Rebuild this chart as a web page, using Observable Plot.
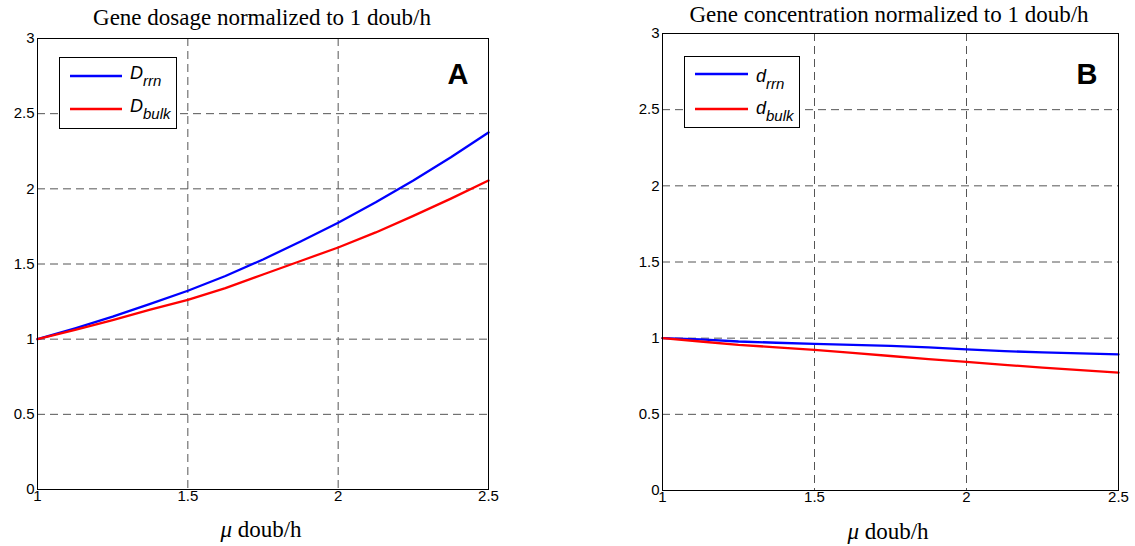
<!DOCTYPE html>
<html>
<head>
<meta charset="utf-8">
<script src="https://cdn.jsdelivr.net/npm/d3@7"></script>
<script src="https://cdn.jsdelivr.net/npm/@observablehq/plot@0.6"></script>
<style>
  html, body { margin: 0; padding: 0; background: #fff; }
  #wrap { position: relative; width: 1135px; height: 546px; overflow: hidden; }
  .panel { position: absolute; top: 0; }
  .panel text { font-size: 15px !important; font-family: "Liberation Sans", Arial, sans-serif !important; }
  .title { position: absolute; font-family: "Liberation Serif", "Times New Roman", serif; font-size: 23px; color: #000; white-space: nowrap; transform: translateX(-50%); line-height: 1; }
  .xlab { position: absolute; font-family: "Liberation Serif", "Times New Roman", serif; font-size: 23px; color: #000; white-space: nowrap; transform: translateX(-50%); line-height: 1; }
  .tag { position: absolute; font-family: "Liberation Sans", Arial, sans-serif; font-weight: bold; font-size: 29px; color: #000; transform: translateX(-50%); line-height: 1; }
  .legend { position: absolute; }
</style>
</head>
<body>
<div id="wrap"></div>
<script>
// ---- data ----
const mu = [1.0, 1.125, 1.25, 1.375, 1.5, 1.625, 1.75, 1.875, 2.0, 2.125, 2.25, 2.375, 2.5];
// Panel A: gene dosage
const D_rrn  = [1.0, 1.072, 1.150, 1.235, 1.322, 1.420, 1.530, 1.650, 1.775, 1.910, 2.055, 2.210, 2.375];
const D_bulk = [1.0, 1.062, 1.127, 1.196, 1.262, 1.340, 1.430, 1.520, 1.610, 1.710, 1.820, 1.935, 2.055];
// Panel B: gene concentration
const d_rrn  = [1.0, 0.992, 0.978, 0.970, 0.962, 0.956, 0.950, 0.940, 0.927, 0.915, 0.907, 0.900, 0.893];
const d_bulk = [1.0, 0.978, 0.956, 0.940, 0.923, 0.903, 0.883, 0.863, 0.844, 0.825, 0.807, 0.790, 0.774];

const xTicks = [1, 1.5, 2, 2.5];
const yTicks = [0, 0.5, 1, 1.5, 2, 2.5, 3];
const xTickLabels = ["1", "1.5", "2", "2.5"];
const yTickLabels = ["0", "0.5", "1", "1.5", "2", "2.5", "3"];

const titles = ["Gene dosage normalized to 1 doub/h", "Gene concentration normalized to 1 doub/h"];
const tags = ["A", "B"];
const legendNames = [["D", "rrn"], ["D", "bulk"], ["d", "rrn"], ["d", "bulk"]];
const colors = ["#0000ff", "#ff0000"];

function rows(ys) { return mu.map((m, i) => ({x: m, y: ys[i]})); }

function makePanel(s1, s2, m) {
  const svg = Plot.plot({
    width: 560,
    height: 546,
    marginLeft: m.left, marginRight: m.right, marginTop: m.top, marginBottom: m.bottom,
    x: {domain: [1, 2.5], axis: null},
    y: {domain: [0, 3], axis: null},
    style: {fontFamily: "'Liberation Sans', Arial, sans-serif", fontSize: "15px", color: "#000", background: "transparent"},
    marks: [
      Plot.gridX(xTicks, {stroke: "#555", strokeOpacity: 1, strokeWidth: 1, strokeDasharray: "8,5"}),
      Plot.gridY(yTicks, {stroke: "#555", strokeOpacity: 1, strokeWidth: 1, strokeDasharray: "8,5"}),
      Plot.text(xTicks, {x: (d) => d, text: (d, i) => xTickLabels[i], frameAnchor: "bottom", lineAnchor: "top", dy: 1, fontSize: 15, fill: "#000"}),
      Plot.text(yTicks, {y: (d) => d, text: (d, i) => yTickLabels[i], frameAnchor: "left", textAnchor: "end", dx: -3, fontSize: 15, fill: "#000"}),
      Plot.line(rows(s1), {x: "x", y: "y", stroke: colors[0], strokeWidth: 2.3}),
      Plot.line(rows(s2), {x: "x", y: "y", stroke: colors[1], strokeWidth: 2.3}),
      Plot.frame({stroke: "#000", strokeWidth: 1})
    ]
  });
  d3.select(svg).selectAll("text").style("font-size", "15px");
  return svg;
}

function legend(names, box) {
  const ns = "http://www.w3.org/2000/svg";
  const svg = document.createElementNS(ns, "svg");
  svg.setAttribute("width", box.w);
  svg.setAttribute("height", box.h);
  svg.setAttribute("class", "legend");
  svg.style.left = box.x + "px";
  svg.style.top = box.y + "px";
  const rect = document.createElementNS(ns, "rect");
  rect.setAttribute("x", 0.5); rect.setAttribute("y", 0.5);
  rect.setAttribute("width", box.w - 1); rect.setAttribute("height", box.h - 1);
  rect.setAttribute("fill", "#fff"); rect.setAttribute("stroke", "#000"); rect.setAttribute("stroke-width", 1);
  svg.appendChild(rect);
  names.forEach((nm, i) => {
    const ly = box.rowY[i];
    const line = document.createElementNS(ns, "line");
    line.setAttribute("x1", box.lx0); line.setAttribute("x2", box.lx1);
    line.setAttribute("y1", ly); line.setAttribute("y2", ly);
    line.setAttribute("stroke", colors[i]); line.setAttribute("stroke-width", 2.3);
    svg.appendChild(line);
    const t = document.createElementNS(ns, "text");
    t.setAttribute("x", box.tx);
    t.setAttribute("y", box.base[i]);
    t.setAttribute("font-family", "'Liberation Sans', Arial, sans-serif");
    t.setAttribute("font-style", "italic");
    t.setAttribute("font-size", 18);
    t.setAttribute("fill", "#000");
    const a = document.createElementNS(ns, "tspan");
    a.textContent = nm[0];
    const b = document.createElementNS(ns, "tspan");
    b.textContent = nm[1];
    b.setAttribute("dy", 7);
    b.setAttribute("font-size", 15);
    t.appendChild(a); t.appendChild(b);
    svg.appendChild(t);
  });
  return svg;
}

const wrap = document.getElementById("wrap");

const left = makePanel(D_rrn, D_bulk, {left: 37, right: 72, top: 38, bottom: 57});
left.classList.add("panel"); left.style.left = "0px";
wrap.appendChild(left);

const right = makePanel(d_rrn, d_bulk, {left: 87, right: 17, top: 33, bottom: 56});
right.classList.add("panel"); right.style.left = "575px";
wrap.appendChild(right);

function addDiv(cls, text, x, y) {
  const d = document.createElement("div");
  d.className = cls; d.textContent = text;
  d.style.left = x + "px"; d.style.top = y + "px";
  wrap.appendChild(d);
  return d;
}
addDiv("title", titles[0], 262, 6);
addDiv("title", titles[1], 889, 3);
addDiv("tag", tags[0], 458, 60);
addDiv("tag", tags[1], 1087, 60);

function xlabel(x, y) {
  const d = document.createElement("div");
  d.className = "xlab";
  d.style.left = x + "px"; d.style.top = y + "px";
  d.innerHTML = "<i>\u03bc</i> doub/h";
  wrap.appendChild(d);
}
xlabel(261, 518);
xlabel(888, 520);

wrap.appendChild(legend(legendNames.slice(0, 2), {x: 59, y: 57, w: 118, h: 72, lx0: 11, lx1: 63, rowY: [19, 52], tx: 71, base: [22, 55]}));
wrap.appendChild(legend(legendNames.slice(2, 4), {x: 684, y: 56, w: 116, h: 72, lx0: 11, lx1: 64, rowY: [18, 53], tx: 72, base: [26, 58]}));
</script>
</body>
</html>
